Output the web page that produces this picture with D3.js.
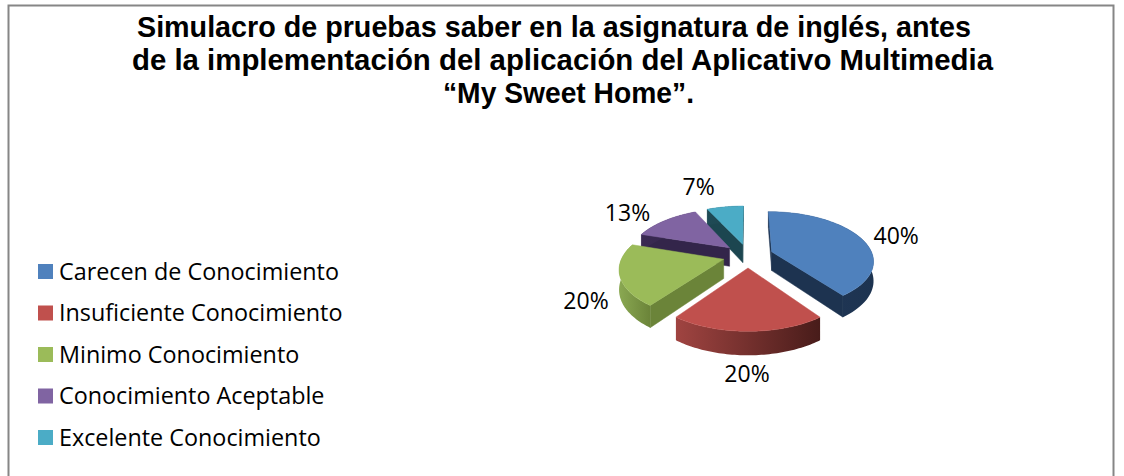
<!DOCTYPE html>
<html><head><meta charset="utf-8">
<script src="https://cdn.jsdelivr.net/npm/d3@7"></script>
<style>html,body{margin:0;padding:0;background:#fff}svg{display:block}</style>
</head><body><svg id="c" width="1124" height="476"></svg>
<script>
const titleLines = ["Simulacro de pruebas saber en la asignatura de inglés, antes",
  "de la implementación del aplicación del Aplicativo Multimedia",
  "“My Sweet Home”."];
const categories = ["Carecen de Conocimiento","Insuficiente Conocimiento","Minimo Conocimiento","Conocimiento Aceptable","Excelente Conocimiento"];
const values = [40,20,20,13,7];
const topColors = ["#4f81bd","#c0504d","#9bbb59","#8064a2","#4bacc6"];
const sideLight = ["#22395a","#a04441","#8aa852","#3a2a52","#1f4a55"];
const sideDark = ["#1d3350","#481c1a","#6b8439","#33254a","#1c4650"];

// layout
const W=1124,H=476, cx=748, cy=255.5, R=101, tilt=48/101, depth=6, explode=.25, thick=19;
const labelRadius=1.7;
const labelNudge=[[-2,4],[-1,5],[17,18],[-12,3],[-20,-6]];
const titleX=[137,132,443], titleW=[834,861,251];

const svg=d3.select("#c");
svg.append("rect").attr("x",8.5).attr("y",5.5).attr("width",1105).attr("height",H+20)
  .attr("fill","#fff").attr("stroke","#868686").attr("stroke-width",2);

svg.append("g").selectAll("text").data(titleLines).join("text")
  .attr("x",(d,i)=>titleX[i]).attr("y",(d,i)=>37+i*33)
  .attr("textLength",(d,i)=>titleW[i]).attr("lengthAdjust","spacingAndGlyphs")
  .attr("font-family","'Liberation Sans',Arial,sans-serif").attr("font-weight",700).attr("font-size",28.6)
  .attr("fill","#000").text(d=>d);

// projection of a point on the (exploded) pie disk to the screen
function proj(X,Y,z){const s=depth/(depth-Y);return [cx+X*R*s, cy+Y*R*tilt*s+(z||0)*s];}
const pie=d3.pie().sort(null).value(d=>d).startAngle(0).endAngle(2*Math.PI);
const arcs=pie(values);
const line=d3.line();
const defs=svg.append("defs");

arcs.forEach((a,i)=>{
  const mid=(a.startAngle+a.endAngle)/2;
  const ox=Math.sin(mid)*explode, oy=-Math.cos(mid)*explode;
  a.pt=(ang,r,z)=>proj(ox+Math.sin(ang)*r, oy-Math.cos(ang)*r, z);
  a.angs=d3.range(0,61).map(k=>a.startAngle+(a.endAngle-a.startAngle)*k/60);
  a.mid=mid;
});

const area=p=>d3.polygonArea(p);
const g=svg.append("g");
[4,3,2,0,1].forEach(i=>{
  const a=arcs[i], pt=a.pt, G=g.append("g");
  const grad=defs.append("linearGradient").attr("id","rim"+i).attr("gradientUnits","userSpaceOnUse");
  const xs=a.angs.map(t=>pt(t,1,0)[0]);
  grad.attr("x1",d3.min(xs)).attr("x2",d3.max(xs)).attr("y1",0).attr("y2",0);
  grad.append("stop").attr("offset",0).attr("stop-color",sideLight[i]);
  grad.append("stop").attr("offset",1).attr("stop-color",sideDark[i]);
  // radial walls: only those turned toward the viewer
  [a.startAngle,a.endAngle].forEach(t=>{
    const q=[pt(t,0,0),pt(t,1,0),pt(t,1,thick),pt(t,0,thick)];
    const facing=(t===a.startAngle)? area(q)>0 : area(q)<0;
    if(facing) G.append("path").attr("d",line(q)+"Z").attr("fill",sideDark[i]).attr("stroke",sideDark[i]).attr("stroke-width",.5);
  });
  // rim
  const topEdge=a.angs.map(t=>pt(t,1,0)), botEdge=a.angs.map(t=>pt(t,1,thick)).reverse();
  G.append("path").attr("d",line(topEdge.concat(botEdge))+"Z").attr("fill",`url(#rim${i})`);
  // top
  const topPoly=[pt(0,0,0)].concat(topEdge);
  G.append("path").attr("d",line(topPoly)+"Z").attr("fill",topColors[i]).attr("stroke",topColors[i]).attr("stroke-width",.5);
});

// data labels
const labelFont="'Open Sans','Noto Sans',sans-serif";
arcs.forEach((a,i)=>{
  const p=proj(Math.sin(a.mid)*labelRadius,-Math.cos(a.mid)*labelRadius);
  svg.append("text").attr("x",p[0]+labelNudge[i][0]).attr("y",p[1]+labelNudge[i][1]+8)
    .attr("text-anchor","middle").attr("font-family",labelFont).attr("font-size",23).attr("fill","#000")
    .text(d3.format(".0f")(a.value)+"%");
});

// legend
const yL=d3.scalePoint().domain(categories).range([271.5,437.5]);
const colour=d3.scaleOrdinal().domain(categories).range(topColors);
const leg=svg.append("g").selectAll("g").data(categories).join("g").attr("transform",d=>`translate(0,${yL(d)})`);
leg.append("rect").attr("x",38).attr("y",-7.5).attr("width",15).attr("height",15).attr("fill",d=>colour(d));
leg.append("text").attr("x",59).attr("y",8).attr("font-family",labelFont).attr("font-size",23.35).attr("fill","#000").text(d=>d);
</script></body></html>
